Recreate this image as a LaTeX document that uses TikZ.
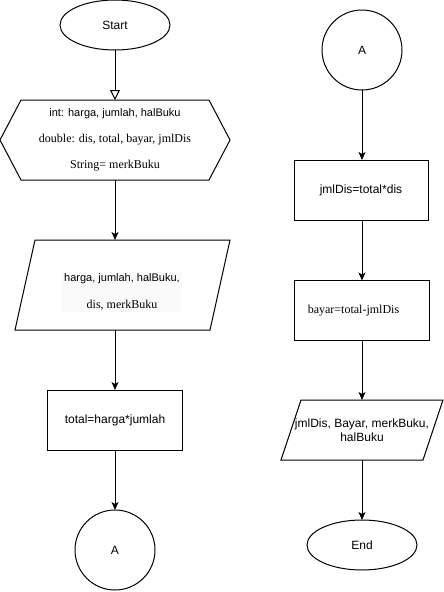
\documentclass[tikz,border=0pt]{standalone}
\usepackage{fontspec}
\setmainfont{Liberation Serif}
\setsansfont{Liberation Sans}
\usetikzlibrary{shapes.geometric,arrows.meta}
\begin{document}
\begin{tikzpicture}[x=1pt,y=-1pt,line width=1pt,
  every node/.style={inner sep=0pt,outer sep=0pt},
  sansf/.style={font=\fontsize{12}{14}\selectfont\sffamily},
  serf/.style={font=\fontsize{12}{14}\selectfont\rmfamily},
  arr/.style={-{Stealth[length=8pt,width=7pt,inset=2pt]}},
  openarr/.style={-{Triangle[open,length=10pt,width=10pt]}},
  term/.style={draw,ellipse,minimum width=110,minimum height=50,sansf},
  conn/.style={draw,circle,minimum size=80,sansf},
  procbox/.style={draw,rectangle,minimum width=135,minimum height=60},
  ghost/.style={rectangle,draw=none}]
\useasboundingbox (0,0) rectangle (444,592);
\fill[white] (0,0) rectangle (444,592);

% left column
\node[term] (start) at (115,25) {Start};
\node[ghost,minimum width=230,minimum height=80,align=center,
      font=\fontsize{12}{26}\selectfont] (hex) at (115,140)
  {{\fontsize{11}{26}\selectfont\sffamily int: harga, jumlah, halBuku}\\
   {\rmfamily double: dis, total, bayar, jmlDis}\\
   {\rmfamily String= merkBuku}};
\draw (hex.west) -- ([xshift=21]hex.north west) -- ([xshift=-21]hex.north east)
  -- (hex.east) -- ([xshift=-21]hex.south east) -- ([xshift=21]hex.south west) -- cycle;

\node[ghost,minimum width=215,minimum height=90] (in1) at (122.5,285) {};
\draw (in1.south west) -- ([xshift=20]in1.north west) -- (in1.north east)
  -- ([xshift=-20]in1.south east) -- cycle;
\node[fill=black!2,inner sep=2pt,align=center,font=\fontsize{12}{27}\selectfont]
  (in1txt) at (122,292)
  {{\fontsize{11}{27}\selectfont\sffamily harga, jumlah, halBuku,}\\{\rmfamily dis, merkBuku}};

\node[procbox,sansf] (calc) at (115,420) {total=harga*jumlah};
\node[conn] (a1) at (115,550) {A};

\draw[openarr] (start.south) -- (hex.north);
\draw[arr] (hex.south) -- (hex.south |- in1.north);
\draw[arr] (hex.south |- in1.south) -- (calc.north);
\draw[arr] (calc.south) -- (a1.north);

% right column
\node[conn] (a2) at (362,50) {A};
\node[procbox,minimum width=134,sansf] (r1) at (361,190) {jmlDis=total*dis};
\node[procbox,minimum width=135,serf] (r2) at (361.5,310.5) {bayar=total-jmlDis\hspace*{16pt}};
\node[ghost,minimum width=162,minimum height=60,align=center,sansf] (in2) at (362,430)
  {jmlDis, Bayar, merkBuku,\\halBuku};
\draw (in2.south west) -- ([xshift=20]in2.north west) -- (in2.north east)
  -- ([xshift=-20]in2.south east) -- cycle;
\node[term] (end) at (362,545) {End};

\draw[arr] (a2.south) -- (r1.north -| a2);
\draw[arr] (r1.south -| a2) -- (r2.north -| a2);
\draw[arr] (r2.south -| a2) -- (in2.north);
\draw[arr] (in2.south) -- (end.north);
\end{tikzpicture}
\end{document}
